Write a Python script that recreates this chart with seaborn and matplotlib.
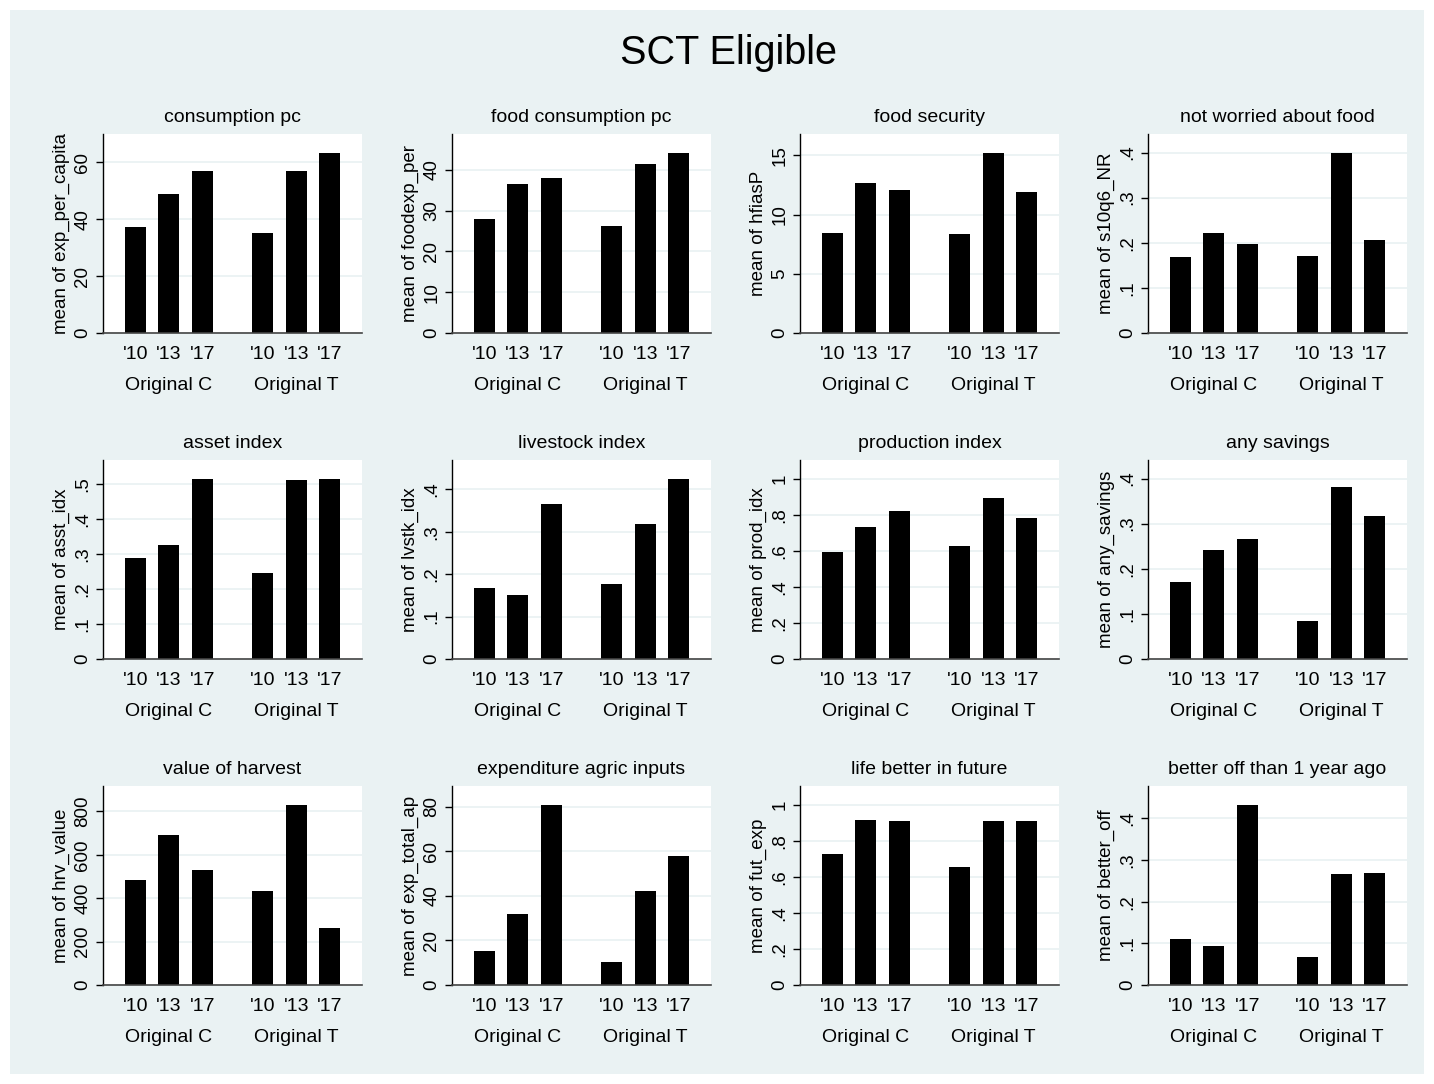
import matplotlib
matplotlib.use("Agg")
import matplotlib.pyplot as plt
from matplotlib.patches import Rectangle
from matplotlib.ticker import FuncFormatter
import pandas as pd
import seaborn as sns

# ---- data -------------------------------------------------------------
groups = ["Original C", "Original T"]
years = ["'10", "'13", "'17"]

titles = [
    "consumption pc", "food consumption pc", "food security", "not worried about food",
    "asset index", "livestock index", "production index", "any savings",
    "value of harvest", "expenditure agric inputs", "life better in future",
    "better off than 1 year ago",
]
ylabels = [
    "mean of exp_per_capita", "mean of foodexp_per", "mean of hfiasP", "mean of s10q6_NR",
    "mean of asst_idx", "mean of lvstk_idx", "mean of prod_idx", "mean of any_savings",
    "mean of hrv_value", "mean of exp_total_ap", "mean of fut_exp", "mean of better_off",
]

# values ordered: Original C ('10, '13, '17), Original T ('10, '13, '17)
exp_per_capita = [37.2, 48.8, 56.9, 35.1, 56.9, 63.3]
foodexp_per = [27.9, 36.5, 38.0, 26.2, 41.5, 44.2]
hfiasP = [8.43, 12.66, 12.07, 8.37, 15.2, 11.9]
s10q6_NR = [0.168, 0.222, 0.197, 0.171, 0.399, 0.206]
asst_idx = [0.288, 0.325, 0.514, 0.245, 0.511, 0.514]
lvstk_idx = [0.167, 0.151, 0.365, 0.177, 0.318, 0.424]
prod_idx = [0.593, 0.731, 0.820, 0.626, 0.893, 0.781]
any_savings = [0.170, 0.242, 0.267, 0.084, 0.381, 0.317]
hrv_value = [484, 691, 530, 433, 831, 263]
exp_total_ap = [15.2, 32.0, 80.9, 10.3, 42.2, 57.9]
fut_exp = [0.726, 0.915, 0.909, 0.654, 0.909, 0.909]
better_off = [0.110, 0.094, 0.433, 0.067, 0.266, 0.269]

series = [exp_per_capita, foodexp_per, hfiasP, s10q6_NR, asst_idx, lvstk_idx,
          prod_idx, any_savings, hrv_value, exp_total_ap, fut_exp, better_off]

# axis ticks and upper limits per panel
yticks = [
    [0, 20, 40, 60], [0, 10, 20, 30, 40], [0, 5, 10, 15], [0, .1, .2, .3, .4],
    [0, .1, .2, .3, .4, .5], [0, .1, .2, .3, .4], [0, .2, .4, .6, .8, 1], [0, .1, .2, .3, .4],
    [0, 200, 400, 600, 800], [0, 20, 40, 60, 80], [0, .2, .4, .6, .8, 1], [0, .1, .2, .3, .4],
]
ytops = [70, 48.8, 16.8, 0.441, 0.569, 0.469, 1.104, 0.441, 917, 89.2, 1.103, 0.478]

# ---- style ------------------------------------------------------------
sns.set_theme(style="white")
plt.rcParams["font.family"] = ["Liberation Sans", "DejaVu Sans"]

BG = "#EAF2F3"
W, H = 1434, 1084
fig = plt.figure(figsize=(W / 100, H / 100), dpi=100, facecolor="white")
fig.patches.append(Rectangle((10 / W, 10 / H), 1414 / W, 1064 / H,
                             transform=fig.transFigure, facecolor=BG,
                             edgecolor="none", zorder=-10))

fig.text(729 / W, 1 - 53 / H, "SCT Eligible", ha="center", va="center",
         fontsize=28.5, color="black")

col_left = [103, 452, 800, 1148]
row_top = [134, 460, 786]
ax_w, ax_h = 259, 199

GROUP_GAP = 3.82      # start of the second group, in bar-spacing units
BAR_W = 0.63


def stata_fmt(v, _pos=None):
    s = f"{v:g}"
    if s.startswith("0."):
        s = s[1:]
    return s


for i, (title, ylab, vals) in enumerate(zip(titles, ylabels, series)):
    r, c = divmod(i, 4)
    left = col_left[c] / W
    bottom = 1 - (row_top[r] + ax_h) / H
    ax = fig.add_axes([left, bottom, ax_w / W, ax_h / H])
    ax.set_facecolor("white")

    pos = [g * GROUP_GAP + k for g in range(len(groups)) for k in range(len(years))]
    df = pd.DataFrame({
        "pos": pos,
        "value": vals,
        "group": [g for g in groups for _ in years],
        "year": years * len(groups),
    })
    sns.barplot(data=df, x="pos", y="value", native_scale=True, color="black",
                saturation=1, width=BAR_W, errorbar=None, linewidth=0, ax=ax)

    ax.set_xlim(-0.97, pos[-1] + 0.97)
    ax.set_ylim(0, ytops[i])
    ax.set_xticks(pos)
    ax.set_xticklabels(df["year"], fontsize=14)
    ax.tick_params(axis="x", length=0, pad=9.5, colors="black")
    ax.set_xlabel("")

    ax.set_yticks(yticks[i])
    ax.yaxis.set_major_formatter(FuncFormatter(stata_fmt))
    ax.tick_params(axis="y", left=True, length=5, width=1, pad=3.5,
                   labelsize=13.5, labelrotation=90, colors="black")
    for lab in ax.get_yticklabels():
        lab.set_va("center")
    ax.set_ylabel(ylab, fontsize=13.5, labelpad=3, color="black")

    ax.yaxis.grid(True, color=BG, linewidth=1.3)
    ax.set_axisbelow(True)

    for side in ("top", "right"):
        ax.spines[side].set_visible(False)
    ax.spines["left"].set_color("black")
    ax.spines["left"].set_linewidth(1.0)
    ax.spines["bottom"].set_color("#444444")
    ax.spines["bottom"].set_linewidth(1.2)

    ax.set_title(title, fontsize=14, pad=9, color="black")

    for g, name in enumerate(groups):
        centre = g * GROUP_GAP + (len(years) - 1) / 2
        ax.annotate(name, xy=(centre, 0), xycoords=("data", "axes fraction"),
                    xytext=(0, -52 * 0.72), textcoords="offset points",
                    ha="center", va="center", fontsize=14, color="black")

fig.savefig("out.png", dpi=100, facecolor=fig.get_facecolor())
